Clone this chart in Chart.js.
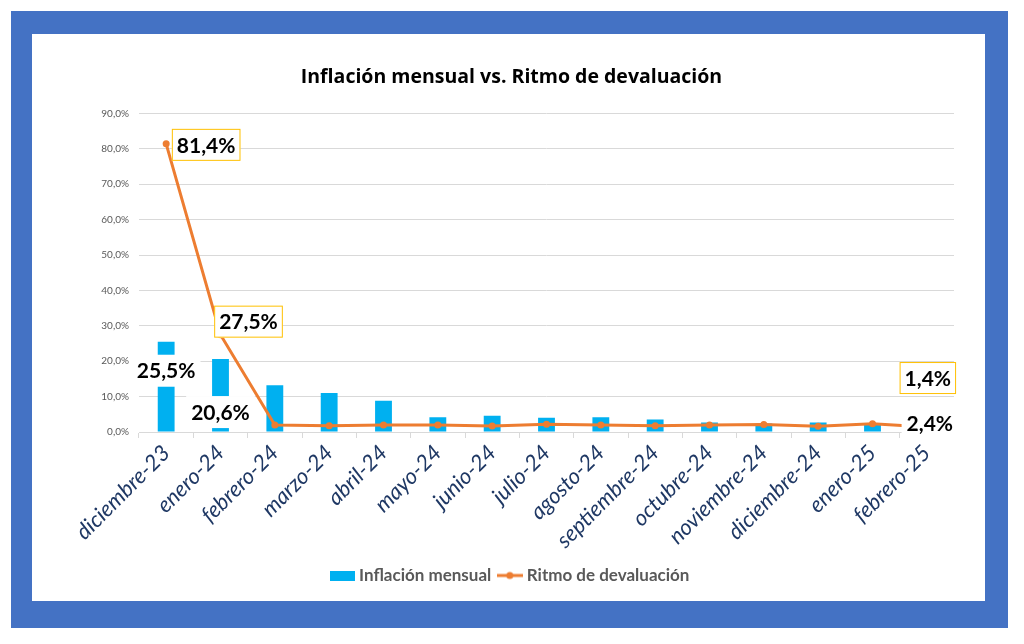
<!DOCTYPE html>
<html>
<head>
<meta charset="utf-8">
<script src="https://cdn.jsdelivr.net/npm/chart.js@4"></script>
<style>
  html, body { margin: 0; padding: 0; background: #fff; }
  #frame { position: absolute; left: 11px; top: 11px; width: 997px; height: 617px; background: #4472C4; }
  #inner { position: absolute; left: 21px; top: 23px; width: 953px; height: 567px; background: #fff; }
</style>
</head>
<body>
<div id="frame"><div id="inner"><canvas id="chart"></canvas></div></div>
<script>
// meses
const meses = ['diciembre-23', 'enero-24', 'febrero-24', 'marzo-24', 'abril-24', 'mayo-24', 'junio-24',
  'julio-24', 'agosto-24', 'septiembre-24', 'octubre-24', 'noviembre-24', 'diciembre-24', 'enero-25', 'febrero-25'];
// inflacion mensual (%)
const inflacion = [25.5, 20.6, 13.2, 11.0, 8.8, 4.2, 4.6, 4.0, 4.2, 3.5, 2.7, 2.4, 2.7, 2.2, 2.4];
// ritmo de devaluacion (%)
const devaluacion = [81.4, 27.5, 2.0, 1.8, 2.0, 2.0, 1.7, 2.2, 2.0, 1.8, 2.0, 2.1, 1.6, 2.3, 1.4];
const yTicks = [0, 90, 10]; // min, max, paso

const AZUL = '#00B0F0';
const NARANJA = '#ED7D31';

function pct(v) { return v.toFixed(1).replace('.', ',') + '%'; }

// etiquetas visibles (dataset, indice, desplazamiento, recuadro)
const etiquetas = [
  { ds: 1, i: 0, dx: 40, dy: 1, box: true },
  { ds: 1, i: 1, dx: 28, dy: -13, box: true },
  { ds: 1, i: 14, dx: 1, dy: -49, box: true },
  { ds: 0, i: 0, dx: 0, dy: 29, box: false },
  { ds: 0, i: 1, dx: 0, dy: 53, box: false },
  { ds: 0, i: 14, dx: 3, dy: 0, box: false }
];

const labelPlugin = {
  id: 'labelPlugin',
  afterDatasetsDraw(chart) {
    const ctx = chart.ctx;
    ctx.save();
    ctx.font = 'bold 21px Lato';
    ctx.textAlign = 'center';
    ctx.textBaseline = 'middle';
    etiquetas.forEach(e => {
      const el = chart.getDatasetMeta(e.ds).data[e.i];
      const v = chart.data.datasets[e.ds].data[e.i];
      const txt = pct(v);
      const x = el.x + e.dx, y = el.y + e.dy;
      const w = ctx.measureText(txt).width + 10, h = 32;
      ctx.fillStyle = '#fff';
      ctx.fillRect(x - w / 2, y - h / 2, w, h);
      if (e.box) {
        ctx.strokeStyle = '#FFC000';
        ctx.lineWidth = 1;
        ctx.strokeRect(x - w / 2 + 0.5, y - h / 2 + 0.5, w - 1, h - 1);
      }
      ctx.fillStyle = '#000';
      ctx.fillText(txt, x, y + 1);
    });
    ctx.restore();
  }
};

// iconos de leyenda
function iconoBarra() {
  const c = document.createElement('canvas');
  c.width = 25; c.height = 10;
  const g = c.getContext('2d');
  g.fillStyle = AZUL;
  g.fillRect(0, 0, 25, 10);
  return c;
}
function iconoLinea() {
  const c = document.createElement('canvas');
  c.width = 26; c.height = 10;
  const g = c.getContext('2d');
  g.strokeStyle = NARANJA;
  g.lineWidth = 3;
  g.beginPath(); g.moveTo(0, 5); g.lineTo(26, 5); g.stroke();
  g.fillStyle = NARANJA;
  g.beginPath(); g.arc(13, 5, 3.5, 0, Math.PI * 2); g.fill();
  return c;
}

const ctxChart = document.getElementById('chart').getContext('2d');
new Chart(ctxChart, {
  type: 'bar',
  data: {
    labels: meses,
    datasets: [{
      type: 'bar',
      label: 'Inflación mensual',
      data: inflacion,
      backgroundColor: AZUL,
      categoryPercentage: 1,
      barPercentage: 0.31,
      order: 2
    }, {
      type: 'line',
      label: 'Ritmo de devaluación',
      data: devaluacion,
      borderColor: NARANJA,
      backgroundColor: NARANJA,
      borderWidth: 3,
      pointRadius: 3.5,
      pointHoverRadius: 3.5,
      pointBackgroundColor: NARANJA,
      pointBorderWidth: 0,
      tension: 0,
      order: 1
    }]
  },
  options: {
    responsive: true,
    maintainAspectRatio: false,
    animation: false,
    layout: { padding: { left: 6, right: 0, top: 0, bottom: 7 } },
    plugins: {
      title: {
        display: true,
        text: 'Inflación mensual vs. Ritmo de devaluación',
        color: '#000',
        font: { family: 'Open Sans', size: 19.5, weight: 'bold' },
        padding: { top: 32, bottom: 24 }
      },
      legend: {
        position: 'bottom',
        labels: {
          usePointStyle: true,
          color: '#595959',
          font: { family: 'Lato', size: 17, weight: 'bold' },
          padding: 10,
          generateLabels(chart) {
            return chart.data.datasets.map((d, i) => ({
              text: d.label,
              pointStyle: i === 0 ? iconoBarra() : iconoLinea(),
              fontColor: '#595959',
              datasetIndex: i,
              hidden: false,
              lineWidth: 0
            }));
          }
        }
      },
      tooltip: { enabled: false }
    },
    scales: {
      x: {
        grid: { drawOnChartArea: false, drawTicks: true, tickLength: 6, color: '#D9D9D9', offset: true },
        border: { color: '#D9D9D9' },
        ticks: {
          minRotation: 45, maxRotation: 45,
          color: '#1F3864',
          font: { family: 'Lato', size: 22, style: 'italic' },
          padding: 2
        },
        afterFit(scale) { scale.height = 125; }
      },
      y: {
        min: yTicks[0], max: yTicks[1],
        grid: { color: '#D9D9D9', drawTicks: false },
        border: { display: false },
        ticks: {
          stepSize: yTicks[2],
          color: '#595959',
          font: { family: 'Lato', size: 10 },
          padding: 10,
          callback: v => pct(v)
        },
        afterFit(scale) { scale.width = 101; }
      },
      // margen derecho vacio
      yDer: {
        position: 'right',
        min: yTicks[0], max: yTicks[1],
        grid: { drawOnChartArea: false, drawTicks: false },
        border: { display: false },
        ticks: { display: false },
        afterFit(scale) { scale.width = 31; }
      }
    }
  },
  plugins: [labelPlugin]
});
</script>
</body>
</html>
